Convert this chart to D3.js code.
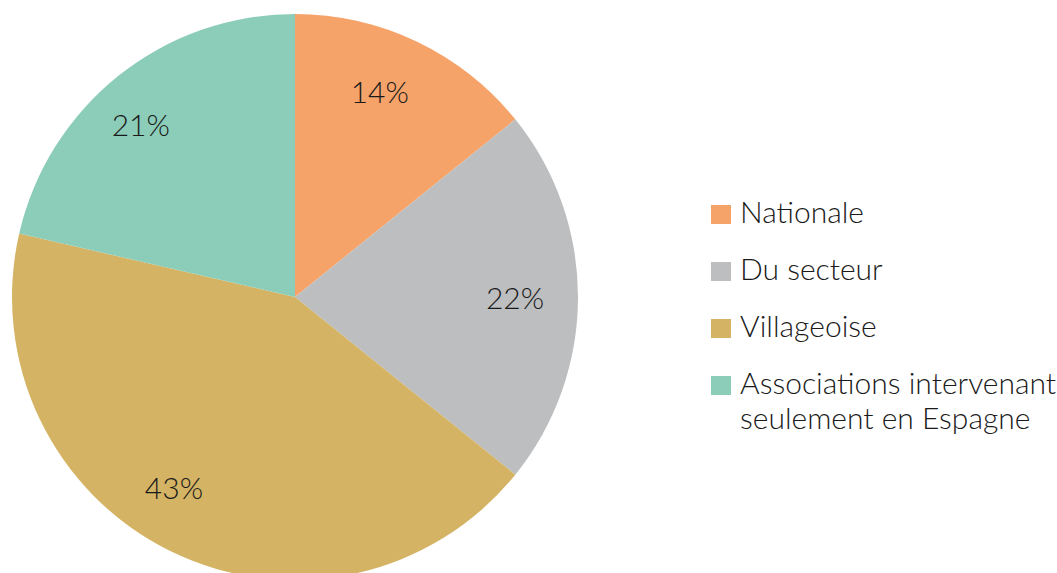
<!DOCTYPE html>
<html><head><meta charset="utf-8">
<script src="https://cdn.jsdelivr.net/npm/d3@7"></script>
<style>body{margin:0;background:#fff}svg{display:block}</style>
</head><body>
<svg id="c" width="1057" height="573"></svg>
<script>
const categories = ["Nationale", "Du secteur", "Villageoise", "Associations intervenant seulement en Espagne"];
const legendLines = [["Nationale"], ["Du secteur"], ["Villageoise"], ["Associations intervenant", "seulement en Espagne"]];
const values = [14.2, 21.6, 42.8, 21.4];
const labels = ["14%", "22%", "43%", "21%"];
const colors = ["#F6A36A", "#BDBEC0", "#D4B464", "#8BCDB8"];

const svg = d3.select("#c");
const cx = 295, cy = 297, R = 283;
const font = "Lato, 'Noto Sans', sans-serif";
// manual label placement tweaks (px) relative to the arc centroid
const nudge = [[-11, -5], [-2, 1.5], [-24, -8.5], [-16, 2]];

const pie = d3.pie().sort(null).value(d => d)(values);
const arc = d3.arc().innerRadius(0).outerRadius(R);
const labelArc = d3.arc().innerRadius(222).outerRadius(222);

const g = svg.append("g").attr("transform", `translate(${cx},${cy})`);
g.selectAll("path").data(pie).join("path")
  .attr("d", arc).attr("fill", (d, i) => colors[i]);
g.selectAll("text").data(pie).join("text")
  .attr("transform", (d, i) => {
    const [x, y] = labelArc.centroid(d);
    return `translate(${x + nudge[i][0]},${y + nudge[i][1]})`;
  })
  .attr("text-anchor", "middle").attr("dy", "0.36em")
  .attr("font-family", font).attr("font-size", 30).attr("font-weight", 300)
  .attr("fill", "#1a1a1a")
  .text((d, i) => labels[i]);

const lg = svg.append("g").attr("transform", "translate(711,0)");
const rowY = d3.scalePoint().domain(categories).range([223, 394]);
categories.forEach((c, i) => {
  const y = rowY(c);
  lg.append("rect").attr("x", 0).attr("y", y - 18).attr("width", 20).attr("height", 19)
    .attr("fill", colors[i]);
  const t = lg.append("text").attr("x", 29).attr("y", y)
    .attr("font-family", font).attr("font-size", 30).attr("font-weight", 300)
    .attr("fill", "#1a1a1a");
  legendLines[i].forEach((line, j) => {
    t.append("tspan").attr("x", 29).attr("y", y + j * 35).text(line);
  });
});
</script>
</body></html>
